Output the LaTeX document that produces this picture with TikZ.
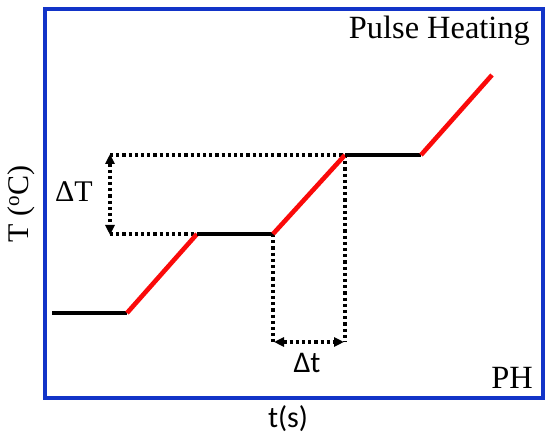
\documentclass[tikz,border=0pt]{standalone}
\usepackage{fontspec}
\setmainfont{Liberation Serif}
\newfontfamily\carl{Carlito}
\usetikzlibrary{arrows.meta}
\definecolor{frameblue}{RGB}{18,52,200}
\definecolor{hotred}{RGB}{250,10,10}
\tikzset{
  framebox/.style={draw=frameblue, line width=4.5pt},
  hold/.style={draw=black, line width=4.6pt},
  ramp/.style={draw=hotred, line width=4.6pt},
  dotline/.style={draw=black, line width=3.2pt, dash pattern=on 3.2pt off 3pt},
  dimarrow/.style={dotline, {Triangle[length=10pt,width=9pt]}-{Triangle[length=10pt,width=9pt]}},
  serif/.style={font=\fontsize{30}{34}\selectfont},
  bigserif/.style={font=\fontsize{32.4}{36}\selectfont},
  sans/.style={font=\carl\fontsize{30}{34}\selectfont},
}
\begin{document}
\begin{tikzpicture}[x=1pt,y=-1pt]
\useasboundingbox (0,0) rectangle (550,446);
\fill[white] (0,0) rectangle (550,446);
% frame
\draw[framebox] (45,9) rectangle (543,398);
% curve points
\coordinate (p0) at (52,313);
\coordinate (p1) at (127,313);
\coordinate (p2) at (197,234);
\coordinate (p3) at (273,234);
\coordinate (p4) at (345,155);
\coordinate (p5) at (421,155);
\coordinate (p6) at (492,75);
% dimension helpers
\coordinate (dTtop) at (110,155);
\coordinate (dTbot) at (110,234);
\coordinate (dtl) at (273,342);
\coordinate (dtr) at (345,342);
% dotted guides
\draw[dotline] (dTtop) -- (p4);
\draw[dotline] (dTbot) -- (p2);
\draw[dotline] (p3) -- (dtl);
\draw[dotline] (p4) -- (dtr);
\draw[dimarrow] ([yshift=1pt]dTtop) -- ([yshift=-1pt]dTbot);
\draw[dimarrow] ([xshift=1pt]dtl) -- ([xshift=-1pt]dtr);
% curve
\draw[hold] (p0) -- (p1);
\draw[ramp] (p1) -- (p2);
\draw[hold] (p2) -- (p3);
\draw[ramp] (p3) -- (p4);
\draw[hold] (p4) -- (p5);
\draw[ramp] (p5) -- (p6);
% labels
\node[bigserif, anchor=base east, inner sep=0pt] (title) at (530,39) {Pulse Heating};
\node[bigserif, anchor=base east, inner sep=0pt] (ph) at (533,389) {PH};
\node[serif, anchor=base west, inner sep=0pt] (dT) at (55,202) {ΔT};
\node[sans, anchor=base, inner sep=0pt] (dt) at (307,373) {Δt};
\node[sans, anchor=base, inner sep=0pt] (tx) at (288,428) {t(s)};
\node[serif, rotate=90, inner sep=0pt] (ty) at (21,204) {T (\textsuperscript{o}C)};
\end{tikzpicture}
\end{document}
